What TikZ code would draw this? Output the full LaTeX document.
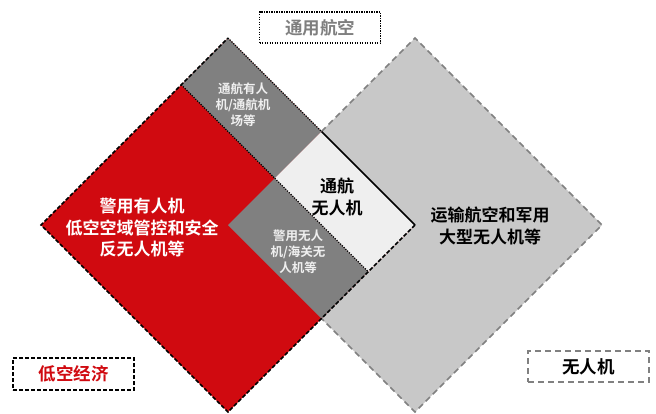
\documentclass[tikz,border=0pt]{standalone}
\usepackage{fontspec}
\newfontfamily\cjk{Noto Sans CJK SC Bold}
\usetikzlibrary{calc}
\definecolor{myred}{HTML}{D00A10}
\definecolor{dgray}{HTML}{808080}
\definecolor{lgray}{HTML}{C8C8C8}
\definecolor{wgray}{HTML}{EFEFEF}
\definecolor{tgray}{HTML}{7F7F7F}
\tikzset{
  bigtxt/.style={font=\cjk\fontsize{17}{21.5}\selectfont, align=center, inner sep=0pt},
  smalltxt/.style={font=\cjk\fontsize{12.5}{16}\selectfont, align=center, inner sep=0pt, text=wgray},
  labtxt/.style={font=\cjk\fontsize{17.5}{20}\selectfont, align=center, inner sep=0pt},
  ldash/.style={draw=black, line width=1.6pt, dash pattern=on 4pt off 2pt},
  ldot/.style={draw=black, line width=1.4pt, dash pattern=on 1.2pt off 1.3pt},
  rdash/.style={draw=dgray, line width=1.6pt, dash pattern=on 6pt off 4pt}
}
\begin{document}
\begin{tikzpicture}[x=1pt,y=-1pt]
\path[use as bounding box] (0,0) rectangle (656,413);
% left diamond
\coordinate (LT) at (228,38);
\coordinate (LR) at (415,225);
\coordinate (LB) at (228,412);
\coordinate (LL) at (41,225);
% right diamond
\coordinate (RT) at (415,38);
\coordinate (RR) at (602,225);
\coordinate (RB) at (415,412);
\coordinate (RL) at (228,225);
% inner points
\coordinate (Q1) at (181.25,84.75);
\coordinate (M1) at (321.5,131.5);
\coordinate (C) at (274.75,178.25);
\coordinate (M2) at (368.25,271.75);
\coordinate (M3) at (321.5,318.5);

% right diamond
\fill[lgray] (RT) -- (RR) -- (RB) -- (RL) -- cycle;
\draw[rdash] (M1) -- (RT) -- (RR) -- (RB) -- (M3);
% left diamond
\fill[myred] (LT) -- (LR) -- (LB) -- (LL) -- cycle;
\fill[dgray] (LT) -- (M1) -- (C) -- (Q1) -- cycle;
\fill[dgray] (RL) -- (C) -- (M2) -- (M3) -- cycle;
\fill[wgray] (M1) -- (LR) -- (M2) -- (C) -- cycle;
% borders
\draw[ldot] (Q1) -- (C);
\draw[ldot] (C) -- (M2);
\draw[ldot] (LT) -- (M1);
\draw[draw=black, line width=1.5pt] (M1) -- (LR);
\draw[ldash] (LR) -- (LB) -- (LL) -- (LT);

% texts
\node[bigtxt, text=white] (police) at (142,228) {警用有人机\\低空空域管控和安全\\反无人机等};
\node[smalltxt] (gaman) at (243,105) {通航有人\\机/通航机\\场等};
\node[smalltxt] (poluav) at (298,252) {警用无人\\机/海关无\\人机等};
\node[bigtxt, text=black] (gauav) at (337,197) {通航\\无人机};
\node[bigtxt, text=black] (trans) at (490,226) {运输航空和军用\\大型无人机等};

% labels
\node[draw=black, line width=1.4pt, dash pattern=on 1.2pt off 1.3pt, minimum width=121pt, minimum height=31pt, inner sep=0pt, labtxt, text=tgray] (ga) at (320,27.5) {通用航空};
\node[draw=black, line width=1.4pt, dash pattern=on 4pt off 2pt, minimum width=121pt, minimum height=32pt, inner sep=0pt, labtxt, text=myred] (lae) at (73.5,374) {低空经济};
\node[draw=dgray, line width=1.4pt, dash pattern=on 6pt off 4pt, minimum width=121pt, minimum height=31pt, inner sep=0pt, labtxt, text=black] (uav) at (588.5,366.5) {无人机};
\end{tikzpicture}
\end{document}
